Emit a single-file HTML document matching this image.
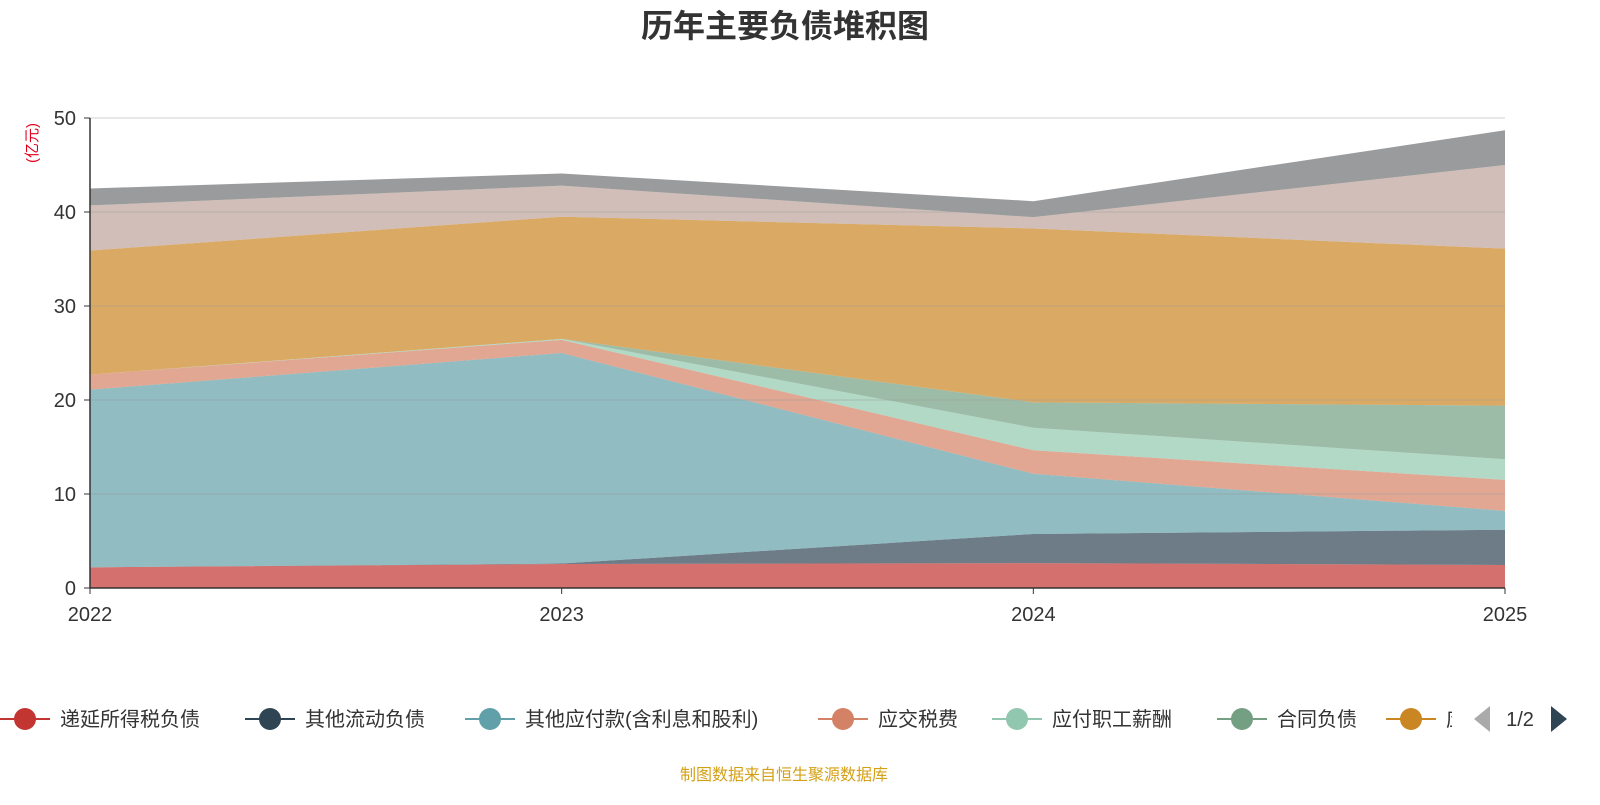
<!DOCTYPE html>
<html><head><meta charset="utf-8">
<style>
body{margin:0;background:#fff;width:1600px;height:800px;overflow:hidden;font-family:"Liberation Sans","Noto Sans CJK SC",sans-serif;}
</style></head>
<body>
<svg id="chart" width="1600" height="800" xmlns="http://www.w3.org/2000/svg" font-family="Liberation Sans, Noto Sans CJK SC, sans-serif"></svg>
<script>
const years=['2022','2023','2024','2025'];
const seriesNames=['递延所得税负债','其他流动负债','其他应付款(含利息和股利)','应交税费','应付职工薪酬','合同负债','应付账款','短期借款','其他'];
const s0=[2.2,2.55,2.65,2.45];
const s1=[0,0.05,3.1,3.75];
const s2=[18.9,22.4,6.4,2.0];
const s3=[1.6,1.4,2.5,3.3];
const s4=[0,0.1,2.4,2.2];
const s5=[0,0,2.7,5.7];
const s6=[13.2,13.0,18.5,16.7];
const s7=[4.8,3.3,1.2,8.9];
const s8=[1.8,1.3,1.7,3.7];
const yTicks=[0,10,20,30,40,50];
const allSeries=[s0,s1,s2,s3,s4,s5,s6,s7,s8];
const colors=['#c23531','#2f4554','#61a0a8','#d48265','#91c7ae','#749f83','#ca8622','#bda29a','#6e7074'];
const svg=document.getElementById('chart');
const NS='http://www.w3.org/2000/svg';
const X0=90,X1=1505,Y0=588,Y1=118;
const xs=i=>X0+(X1-X0)*i/(years.length-1);
const ys=v=>Y0-(Y0-Y1)*v/50;
function mk(t,a,p){const e=document.createElementNS(NS,t);for(const k in a)e.setAttribute(k,a[k]);(p||svg).appendChild(e);return e;}
// title
let t=mk('text',{x:785,y:37,'text-anchor':'middle','font-size':32,'font-weight':'bold',fill:'#333'});t.textContent='历年主要负债堆积图';


// areas
let base=[0,0,0,0];
allSeries.forEach((s,k)=>{
  const top=base.map((b,i)=>b+s[i]);
  let d='';
  top.forEach((v,i)=>{d+=(i?'L':'M')+xs(i)+','+ys(v);});
  for(let i=years.length-1;i>=0;i--)d+='L'+xs(i)+','+ys(base[i]);
  const p=mk('path',{d:d+'Z',fill:colors[k],'fill-opacity':0.7,stroke:'none'});
  
  
  base=top;
});
// grid + y labels
yTicks.forEach(v=>{
  const g=mk('line',{x1:X0,x2:X1,y1:ys(v),y2:ys(v),stroke:v===0?'#333':'#999','stroke-opacity':v===0?1:0.45,'stroke-width':v===0?1.5:1});
  
  
  mk('line',{x1:X0-6,x2:X0,y1:ys(v),y2:ys(v),stroke:'#333'});
  const l=mk('text',{x:X0-14,y:ys(v)+7,'text-anchor':'end','font-size':20,fill:'#333'});l.textContent=v;
  
  
});
mk('line',{x1:X0,x2:X0,y1:Y1,y2:Y0,stroke:'#333','stroke-width':1.5});
years.forEach((y,i)=>{
  mk('line',{x1:xs(i),x2:xs(i),y1:Y0,y2:Y0+6,stroke:'#333'});
  const l=mk('text',{x:xs(i),y:621,'text-anchor':'middle','font-size':20,fill:'#333'});l.textContent=y;
  
  
});
const u=mk('text',{x:0,y:0,transform:'translate(37,143) rotate(-90)','text-anchor':'middle','font-size':15,fill:'#e0001b'});u.textContent='(亿元)';


// legend
const legX=[25,270,490,843,1017,1242,1411];
const clip=mk('clipPath',{id:'lc'});mk('rect',{x:0,y:690,width:1452,height:60},clip);
const lg=mk('g',{'clip-path':'url(#lc)'});


legX.forEach((x,k)=>{
  const g=mk('g',{},lg);
  
  
  mk('line',{x1:x-25,x2:x+25,y1:719,y2:719,stroke:colors[k],'stroke-width':2},g);
  mk('circle',{cx:x,cy:719,r:11,fill:colors[k]},g);
  const tx=mk('text',{x:x+35,y:726,'font-size':20,fill:'#333'},g);tx.textContent=seriesNames[k];
});
const pl=mk('path',{d:'M1490,706 L1490,732 L1474,719Z',fill:'#aaa'});


const pn=mk('text',{x:1520,y:726,'text-anchor':'middle','font-size':20,fill:'#333'});pn.textContent='1/2';


const pr=mk('path',{d:'M1551,706 L1551,732 L1567,719Z',fill:'#2f4554'});


const f=mk('text',{x:784,y:780,'text-anchor':'middle','font-size':16,fill:'#d4a017'});f.textContent='制图数据来自恒生聚源数据库';


</script>
</body></html>
